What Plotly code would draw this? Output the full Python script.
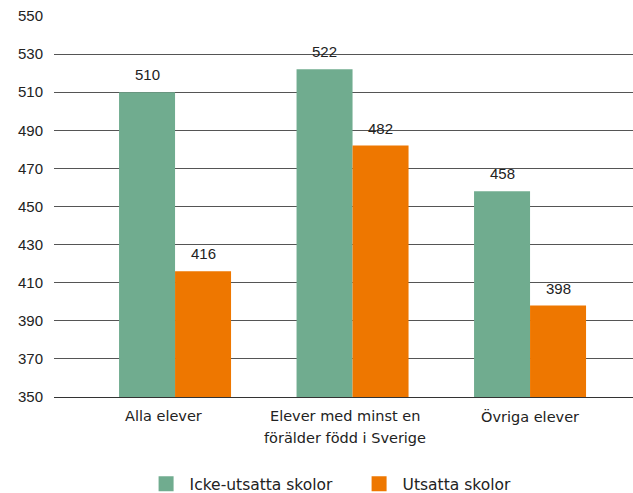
import plotly.graph_objects as go

category_lines = [["Alla elever"], ["Elever med minst en", "förälder född i Sverige"], ["Övriga elever"]]
icke_utsatta = [510, 522, 458]
utsatta = [416, 482, 398]
series_names = ["Icke-utsatta skolor", "Utsatta skolor"]
tick_values = list(range(350, 551, 20))

green = "#70AC8F"
orange = "#EE7700"
label_font = "DejaVu Sans, Noto Sans, sans-serif"
number_font = "Liberation Sans, Arial, sans-serif"
text_color = "#222222"
bargap = 0.369
bar_w = (1 - bargap) / 2
label_nudge = [-12, -8, 0]   # horizontal pixel nudge of each category label
line_step = 22               # pixel distance between label lines

fig = go.Figure()
series = [(series_names[0], icke_utsatta, green), (series_names[1], utsatta, orange)]
positions = list(range(len(category_lines)))
for name, vals, col in series:
    fig.add_trace(go.Bar(
        x=positions, y=vals, name=name, showlegend=False,
        marker=dict(color=col, line=dict(width=0)),
    ))
    # square legend swatches
    fig.add_trace(go.Scatter(
        x=[None], y=[None], mode="markers", name=name,
        marker=dict(symbol="square", size=15, color=col),
    ))

annotations = []
# value labels above each bar
for k, (name, vals, col) in enumerate(series):
    offset = (k - 0.5) * bar_w
    for i, v in enumerate(vals):
        annotations.append(dict(
            x=i + offset, y=v, xref="x", yref="y", text=str(v), showarrow=False,
            yanchor="bottom", yshift=7, font=dict(size=15, color=text_color, family=number_font),
        ))

# category labels under the axis
for i, lines in enumerate(category_lines):
    for j, t in enumerate(lines):
        annotations.append(dict(
            x=i, y=0, xref="x", yref="paper", text=t, showarrow=False,
            yanchor="middle", yshift=-19 - j * line_step, xshift=label_nudge[i],
            font=dict(size=14.5, color=text_color, family=label_font),
        ))

fig.update_layout(
    width=633, height=493,
    margin=dict(l=54, r=0, t=16, b=96, autoexpand=False),
    paper_bgcolor="white", plot_bgcolor="white",
    barmode="group", bargap=bargap, bargroupgap=0,
    font=dict(family=label_font, size=14.5, color=text_color),
    legend=dict(orientation="h", x=0.153, xanchor="left", y=-0.229, yanchor="middle",
                font=dict(size=15.5, color=text_color, family=label_font), itemwidth=37,
                entrywidth=161, traceorder="normal"),
    annotations=annotations,
)
fig.update_yaxes(range=[350, 550], tickvals=tick_values, showgrid=True, gridcolor="#555555",
                 gridwidth=1, zeroline=False, showline=False, ticks="",
                 tickfont=dict(size=15, color=text_color, family=number_font), ticklabelstandoff=10)
fig.update_xaxes(range=[-0.682, 2.58], showticklabels=False,
                 showline=True, linecolor="#333333", linewidth=1, ticks="")

fig.write_html("out.html")
